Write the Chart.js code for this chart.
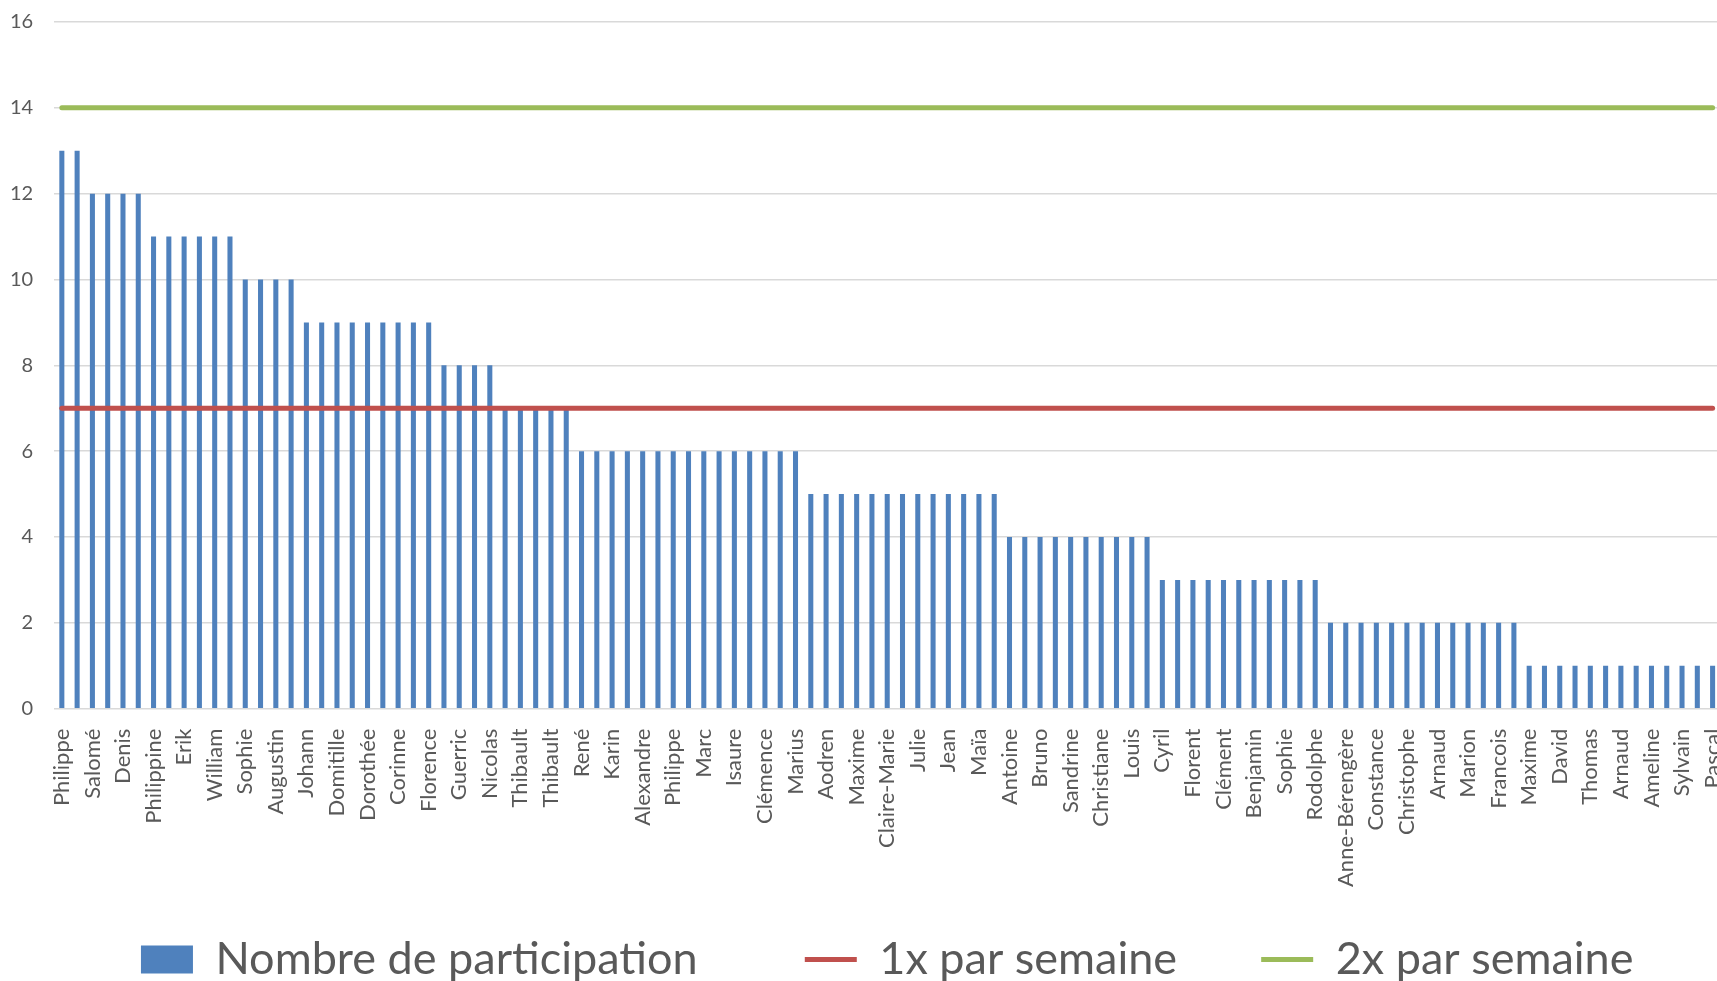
<!DOCTYPE html>
<html>
<head>
<meta charset="utf-8">
<script src="https://cdn.jsdelivr.net/npm/chart.js@4/dist/chart.umd.min.js"></script>
<style>
  html, body { margin: 0; padding: 0; background: #fff; overflow: hidden; }
  #wrap { position: relative; width: 1751px; height: 981px; }
</style>
</head>
<body>
<div id="wrap"><canvas id="participation-chart"></canvas></div>
<script>
// only every other name is readable on the axis, the others stay blank
var names = [
  'Philippe', '', 'Salomé', '', 'Denis', '', 'Philippine', '', 'Erik', '',
  'William', '', 'Sophie', '', 'Augustin', '', 'Johann', '', 'Domitille', '',
  'Dorothée', '', 'Corinne', '', 'Florence', '', 'Guerric', '', 'Nicolas', '',
  'Thibault', '', 'Thibault', '', 'René', '', 'Karin', '', 'Alexandre', '',
  'Philippe', '', 'Marc', '', 'Isaure', '', 'Clémence', '', 'Marius', '',
  'Aodren', '', 'Maxime', '', 'Claire-Marie', '', 'Julie', '', 'Jean', '',
  'Maïa', '', 'Antoine', '', 'Bruno', '', 'Sandrine', '', 'Christiane', '',
  'Louis', '', 'Cyril', '', 'Florent', '', 'Clément', '', 'Benjamin', '',
  'Sophie', '', 'Rodolphe', '', 'Anne-Bérengère', '', 'Constance', '', 'Christophe', '',
  'Arnaud', '', 'Marion', '', 'Francois', '', 'Maxime', '', 'David', '',
  'Thomas', '', 'Arnaud', '', 'Ameline', '', 'Sylvain', '', 'Pascal'
];

var participations = [
  13, 13, 12, 12, 12, 12, 11, 11, 11, 11,
  11, 11, 10, 10, 10, 10, 9, 9, 9, 9,
  9, 9, 9, 9, 9, 8, 8, 8, 8, 7,
  7, 7, 7, 7, 6, 6, 6, 6, 6, 6,
  6, 6, 6, 6, 6, 6, 6, 6, 6, 5,
  5, 5, 5, 5, 5, 5, 5, 5, 5, 5,
  5, 5, 4, 4, 4, 4, 4, 4, 4, 4,
  4, 4, 3, 3, 3, 3, 3, 3, 3, 3,
  3, 3, 3, 2, 2, 2, 2, 2, 2, 2,
  2, 2, 2, 2, 2, 2, 1, 1, 1, 1,
  1, 1, 1, 1, 1, 1, 1, 1, 1
];

var ONCE_A_WEEK = 7;
var TWICE_A_WEEK = 14;

var BLUE = '#4F81BD';
var RED = '#C0504D';
var GREEN = '#9BBB59';
var TEXT = '#595959';
var FONT = 'Lato, "Open Sans", sans-serif';

// target lines run from the first name to the last one
function flatLine (value) {
  return [
    {x: names[0], y: value},
    {x: names[names.length - 1], y: value}
  ];
}

function targetDataset (label, value, color) {
  return {
    type: 'line',
    label: label,
    data: flatLine(value),
    borderColor: color,
    borderWidth: 5,
    borderCapStyle: 'round',
    pointRadius: 0,
    pointBorderWidth: 5,
    pointStyle: 'line',
    order: 0
  };
}

// the legend padding also grows its height, so widen the gaps with spaces
var LEGEND_GAPS = ['      ', '    ', ''];
function spacedLabels (chart) {
  var items = Chart.defaults.plugins.legend.labels.generateLabels(chart)
  items.forEach(function (item) {
    item.text = item.text + LEGEND_GAPS[item.datasetIndex]
  })
  return items
}

function drawParticipation (ctx) {
  new Chart(ctx, {
    data: {
      labels: names,
      datasets: [
        {
          type: 'bar',
          label: 'Nombre de participation',
          data: participations,
          backgroundColor: BLUE,
          barPercentage: 0.33,
          categoryPercentage: 1,
          pointStyle: 'rect',
          order: 1
        },
        targetDataset('1x par semaine', ONCE_A_WEEK, RED),
        targetDataset('2x par semaine', TWICE_A_WEEK, GREEN)
      ]
    },
    options: {
      responsive: true,
      maintainAspectRatio: false,
      animation: false,
      layout: { padding: { left: 0, top: 0, right: 0, bottom: -11 } },
      plugins: {
        tooltip: { enabled: false },
        legend: {
          position: 'bottom',
          fullSize: false,
          labels: {
            usePointStyle: true,
            pointStyleWidth: 52,
            boxHeight: 28,
            padding: 38,
            color: TEXT,
            font: { family: FONT, size: 45 },
            generateLabels: spacedLabels,
            sort: function (a, b) { return a.datasetIndex - b.datasetIndex; }
          }
        }
      },
      scales: {
        x: {
          grid: { display: false },
          border: { display: false },
          ticks: {
            autoSkip: false,
            maxRotation: 90,
            minRotation: 90,
            padding: 12,
            color: TEXT,
            font: { family: FONT, size: 22 }
          }
        },
        y: {
          min: 0,
          max: 16,
          grid: {
            color: '#D9D9D9',
            lineWidth: 1.5,
            tickLength: 11,
            tickColor: 'rgba(0,0,0,0)'
          },
          border: { display: false },
          ticks: {
            stepSize: 2,
            padding: 10,
            color: TEXT,
            font: { family: FONT, size: 20 }
          }
        }
      }
    }
  });
}

drawParticipation(document.getElementById('participation-chart').getContext('2d'));
</script>
</body>
</html>
